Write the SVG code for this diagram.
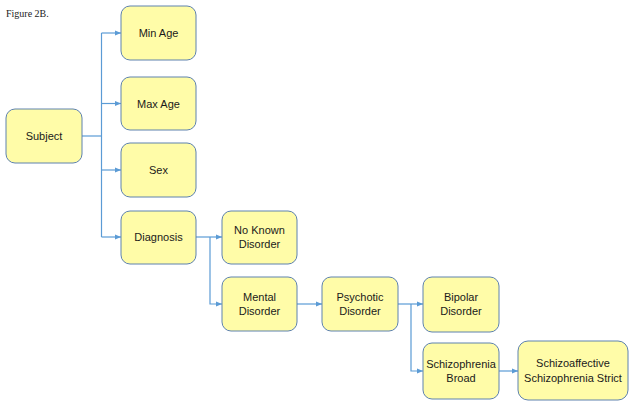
<svg xmlns="http://www.w3.org/2000/svg" width="635" height="409" viewBox="0 0 635 409">
<defs>
<style>
.n rect{fill:#FFFCA8;stroke:#5E82AE;stroke-width:1}
.n text{font-family:"Liberation Sans",Arial,sans-serif;font-size:11px;fill:#1a1a1a;text-anchor:middle}
.c path{fill:none;stroke:#5B9BD5;stroke-width:1.2}
.cap{font-family:"Liberation Serif","Times New Roman",serif;font-size:10px;fill:#222}
</style>
<marker id="a" viewBox="0 0 10 10" refX="10" refY="5" markerWidth="6" markerHeight="6" orient="auto" markerUnits="userSpaceOnUse">
<path d="M0,1 L10,5 L0,9 z" fill="#5B9BD5"/>
</marker>
</defs>
<rect width="635" height="409" fill="#fff"/>
<text class="cap" x="6" y="17">Figure 2B.</text>
<g class="c">
<path d="M82,136 H101.5"/>
<path d="M101.5,33 V237"/>
<path d="M101.5,33 H121" marker-end="url(#a)"/>
<path d="M101.5,103.5 H121" marker-end="url(#a)"/>
<path d="M101.5,170 H121" marker-end="url(#a)"/>
<path d="M101.5,237 H121" marker-end="url(#a)"/>
<path d="M196,237 H222" marker-end="url(#a)"/>
<path d="M210,237 V304 H222" marker-end="url(#a)"/>
<path d="M297,304 H322" marker-end="url(#a)"/>
<path d="M398,304 H423" marker-end="url(#a)"/>
<path d="M411,304 V371 H423" marker-end="url(#a)"/>
<path d="M499,371 H518" marker-end="url(#a)"/>
</g>
<g id="subject" class="n"><rect x="6" y="109" width="76" height="54" rx="9"/><text x="44" y="140">Subject</text></g>
<g id="minage" class="n"><rect x="121" y="6" width="75" height="54" rx="9"/><text x="158.5" y="37">Min Age</text></g>
<g id="maxage" class="n"><rect x="121" y="77" width="75" height="53" rx="9"/><text x="158.5" y="107.5">Max Age</text></g>
<g id="sex" class="n"><rect x="121" y="143" width="75" height="54" rx="9"/><text x="158.5" y="174">Sex</text></g>
<g id="diagnosis" class="n"><rect x="121" y="211" width="75" height="53" rx="9"/><text x="158.5" y="241">Diagnosis</text></g>
<g id="noknown" class="n"><rect x="222" y="211" width="75" height="53" rx="9"/><text x="259.5" y="234">No Known</text><text x="259.5" y="248">Disorder</text></g>
<g id="mental" class="n"><rect x="222" y="277" width="75" height="54" rx="9"/><text x="259.5" y="301">Mental</text><text x="259.5" y="315">Disorder</text></g>
<g id="psychotic" class="n"><rect x="322" y="277" width="76" height="54" rx="9"/><text x="360" y="301">Psychotic</text><text x="360" y="315">Disorder</text></g>
<g id="bipolar" class="n"><rect x="423" y="277" width="76" height="55" rx="9"/><text x="461" y="301">Bipolar</text><text x="461" y="315">Disorder</text></g>
<g id="schizbroad" class="n"><rect x="423" y="343" width="76" height="56" rx="9"/><text x="461" y="368">Schizophrenia</text><text x="461" y="382">Broad</text></g>
<g id="schizoaff" class="n"><rect x="518" y="341" width="110" height="59" rx="10"/><text x="573" y="367">Schizoaffective</text><text x="573" y="382">Schizophrenia Strict</text></g>
</svg>
